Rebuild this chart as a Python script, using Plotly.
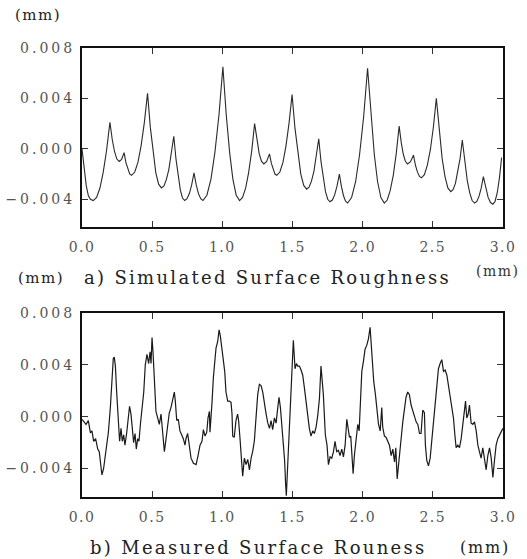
import plotly.graph_objects as go

# ---- data (mm) ----
sim_x = [0.000, 0.015, 0.030, 0.045, 0.060, 0.080, 0.104, 0.128, 0.151, 0.175,
         0.199, 0.2155, 0.232, 0.2485, 0.265, 0.2825, 0.300, 0.313, 0.3265, 0.340,
         0.353, 0.376, 0.399, 0.421, 0.444, 0.467, 0.487, 0.507, 0.526, 0.546,
         0.566, 0.584, 0.601, 0.619, 0.636, 0.654, 0.670, 0.685, 0.701, 0.716,
         0.732, 0.7485, 0.765, 0.7815, 0.798, 0.814, 0.830, 0.846, 0.862, 0.890,
         0.919, 0.947, 0.976, 1.004, 1.028, 1.052, 1.075, 1.099, 1.123, 1.144,
         1.166, 1.187, 1.209, 1.230, 1.2465, 1.263, 1.2795, 1.296, 1.316, 1.336,
         1.349, 1.362, 1.375, 1.388, 1.410, 1.432, 1.453, 1.475, 1.497, 1.518,
         1.539, 1.559, 1.580, 1.601, 1.618, 1.635, 1.653, 1.670, 1.687, 1.703,
         1.719, 1.735, 1.751, 1.767, 1.784, 1.8005, 1.817, 1.834, 1.849, 1.8635,
         1.878, 1.893, 1.921, 1.950, 1.978, 2.007, 2.035, 2.059, 2.083, 2.106,
         2.130, 2.154, 2.175, 2.196, 2.218, 2.239, 2.260, 2.275, 2.290, 2.305,
         2.320, 2.341, 2.362, 2.376, 2.3905, 2.405, 2.419, 2.440, 2.461, 2.483,
         2.504, 2.525, 2.546, 2.566, 2.587, 2.607, 2.628, 2.644, 2.661, 2.677,
         2.694, 2.710, 2.728, 2.745, 2.763, 2.780, 2.798, 2.8135, 2.829, 2.8445,
         2.860, 2.877, 2.894, 2.911, 2.928, 2.9435, 2.959, 2.9745, 2.990]
sim_y = [0.0000, -0.0016, -0.0029, -0.0037, -0.0040, -0.0041, -0.00385, -0.00311, -0.00187, -0.00013,
         0.0021, 0.00074, -0.00023, -0.00081, -0.0010, -0.00083, -0.0003, -0.00109, -0.00165, -0.00199,
         -0.0021, -0.00184, -0.00106, 0.00024, 0.00206, 0.0044, 0.0017, -0.0004, -0.0019, -0.0028,
         -0.0031, -0.00294, -0.00244, -0.00162, -0.00048, 0.0010, -0.00084, -0.00226, -0.00328, -0.0039,
         -0.0041, -0.00396, -0.00355, -0.00286, -0.0019, -0.00286, -0.00355, -0.00396, -0.0041, -0.00368,
         -0.0024, -0.00028, 0.00268, 0.0065, 0.00268, -0.00028, -0.0024, -0.00368, -0.0041, -0.00386,
         -0.00312, -0.0019, -0.0002, 0.0020, 0.0006, -0.0004, -0.0010, -0.0012, -0.0010, -0.0004,
         -0.00114, -0.00168, -0.0020, -0.0021, -0.00184, -0.00108, 0.0002, 0.0020, 0.0043, 0.0016,
         -0.0005, -0.0020, -0.0029, -0.0032, -0.00304, -0.00256, -0.00176, -0.00064, 0.0008, -0.0010,
         -0.0024, -0.0034, -0.0040, -0.0042, -0.00406, -0.00365, -0.00296, -0.0020, -0.00301, -0.00372,
         -0.00416, -0.0043, -0.00387, -0.00259, -0.00045, 0.00255, 0.0064, 0.00255, -0.00045, -0.00259,
         -0.00387, -0.0043, -0.00406, -0.00332, -0.0021, -0.0004, 0.0018, 0.00049, -0.00045, -0.00101,
         -0.0012, -0.00102, -0.0005, -0.00129, -0.00185, -0.00219, -0.0023, -0.00205, -0.00129, -0.00003,
         0.00173, 0.0040, 0.00134, -0.00074, -0.00222, -0.0031, -0.0034, -0.00324, -0.00274, -0.00192,
         -0.00078, 0.0007, -0.0011, -0.0025, -0.0035, -0.0041, -0.0043, -0.00417, -0.00377, -0.00312,
         -0.0022, -0.00316, -0.00385, -0.00426, -0.0044, -0.00417, -0.00348, -0.00232, -0.0007]

meas_x = [0.000, 0.029, 0.045, 0.060, 0.071, 0.083, 0.097, 0.112, 0.123, 0.135,
          0.142, 0.154, 0.164, 0.178, 0.188, 0.202, 0.214, 0.223, 0.230, 0.238,
          0.247, 0.254, 0.261, 0.268, 0.278, 0.287, 0.297, 0.306, 0.318, 0.330,
          0.339, 0.349, 0.359, 0.368, 0.378, 0.387, 0.397, 0.406, 0.416, 0.428,
          0.440, 0.451, 0.463, 0.475, 0.485, 0.492, 0.499, 0.506, 0.513, 0.520,
          0.527, 0.539, 0.551, 0.563, 0.575, 0.587, 0.599, 0.610, 0.622, 0.634,
          0.646, 0.658, 0.665, 0.675, 0.686, 0.698, 0.710, 0.722, 0.734,
          0.741, 0.753, 0.765, 0.777, 0.794, 0.813, 0.827, 0.841, 0.855, 0.865,
          0.877, 0.889, 0.898, 0.908, 0.912, 0.919, 0.927, 0.936, 0.946, 0.955,
          0.967, 0.977, 0.986, 0.998, 1.007, 1.017, 1.026, 1.038, 1.050, 1.062,
          1.069, 1.074, 1.085, 1.097, 1.109, 1.116, 1.126, 1.136, 1.145, 1.157,
          1.169, 1.181, 1.193, 1.205, 1.216, 1.228, 1.240, 1.252, 1.264, 1.276,
          1.288, 1.300, 1.312, 1.324, 1.336, 1.347, 1.359, 1.371, 1.383, 1.395,
          1.404, 1.414, 1.423, 1.435, 1.444, 1.451, 1.456, 1.463, 1.473, 1.482,
          1.491, 1.501, 1.506,
          1.518, 1.528, 1.537, 1.549, 1.561, 1.573, 1.585, 1.596, 1.608, 1.620,
          1.632, 1.644, 1.656, 1.668, 1.680, 1.692, 1.703, 1.710, 1.720, 1.727,
          1.734, 1.746, 1.756, 1.768, 1.780, 1.792, 1.803, 1.815, 1.827, 1.839,
          1.851, 1.863, 1.875, 1.887, 1.896, 1.906, 1.915, 1.925, 1.932, 1.941,
          1.953, 1.965, 1.975, 1.984, 1.994, 2.006, 2.017, 2.029, 2.041, 2.053,
          2.060, 2.070, 2.079, 2.091, 2.103, 2.113, 2.125, 2.136, 2.143, 2.155,
          2.167, 2.179, 2.191, 2.203, 2.215, 2.227, 2.236, 2.246,
          2.262, 2.274, 2.286, 2.298, 2.309, 2.321, 2.333, 2.345, 2.357, 2.369,
          2.381, 2.393, 2.405, 2.416, 2.428, 2.440, 2.447, 2.457, 2.469, 2.481,
          2.492, 2.504, 2.516, 2.528, 2.540, 2.552, 2.564, 2.576, 2.588, 2.600,
          2.612, 2.623, 2.635, 2.647, 2.657, 2.666, 2.678, 2.690, 2.702, 2.714,
          2.726, 2.733, 2.742, 2.752, 2.761, 2.773, 2.785, 2.797, 2.809, 2.821,
          2.832, 2.844, 2.856, 2.868, 2.880, 2.892, 2.904, 2.916, 2.928, 2.939,
          2.951, 2.963, 2.975, 2.987, 2.999]
meas_y = [-0.0002, -0.0006, -0.0003, -0.00125, -0.0011, -0.0019, -0.0017, -0.0025, -0.0027, -0.0039,
          -0.0045, -0.0040, -0.0032, -0.0017, -0.0012, 0.0007, 0.0032, 0.0045, 0.0046, 0.0039,
          0.0019, 0.0007, -0.0012, -0.0019, -0.0009, -0.0019, -0.0014, -0.0022, -0.0013, -0.0001,
          0.0008, 0.0002, -0.0014, -0.0020, -0.0013, -0.0025, -0.0017, -0.0019, -0.0006, 0.0007,
          0.0019, 0.0040, 0.0048, 0.0041, 0.0050, 0.0041, 0.0061, 0.0050, 0.0035, 0.0019,
          0.0004, -0.0001, -0.0006, 0.0002, -0.0014, -0.0027, -0.0017, -0.0006, 0.0003, 0.0007,
          0.0012, 0.0019, 0.0012, -0.0003, -0.0002, -0.0011, -0.0014, -0.0017, -0.0022,
          -0.0017, -0.0013, -0.0022, -0.0032, -0.0036, -0.0037, -0.0030, -0.0022, -0.0019, -0.0010,
          -0.0015, -0.0012, -0.0001, 0.0004, -0.0012, -0.0003, 0.0012, 0.0030, 0.0045, 0.0053,
          0.0058, 0.0067, 0.0062, 0.0050, 0.0045, 0.0035, 0.0019, 0.0012, 0.0012, 0.0011,
          0.0002, -0.0015, -0.0016, -0.0003, 0.0002, -0.0003, -0.0017, -0.0032, -0.0046, -0.0032,
          -0.0037, -0.0033, -0.0041, -0.0032, -0.0027, -0.0019, 0.0002, 0.0017, 0.0025, 0.0024,
          0.0019, 0.0009, 0.0002, -0.0005, -0.0009, -0.0003, -0.0010, -0.0001, -0.0005, 0.0007,
          0.0015, 0.0007, -0.0006, -0.0016, -0.0034, -0.0052, -0.0061, -0.0044, -0.0022, -0.0003,
          0.0022, 0.0045, 0.0059,
          0.0037, 0.0041, 0.0039, 0.0039, 0.0036, 0.0032, 0.0022, 0.0012, 0.0004, -0.0009,
          -0.0015, -0.0011, -0.0013, -0.0008, 0.0001, 0.0014, 0.0039, 0.0030, 0.0017, 0.0001,
          -0.0014, -0.0022, -0.0037, -0.0031, -0.0032, -0.0027, -0.0019, -0.0027, -0.0026, -0.0030,
          -0.0025, -0.0031, -0.0022, -0.0002, -0.0011, -0.0016, -0.0015, -0.0030, -0.0044, -0.0030,
          -0.0017, -0.0006, -0.0011, 0.0009, 0.0035, 0.0043, 0.0052, 0.0055, 0.0060, 0.0069,
          0.0055, 0.0037, 0.0027, 0.0017, 0.0004, -0.0006, -0.0011, 0.0007, -0.0008, -0.0015,
          -0.0016, -0.0019, -0.0022, -0.0030, -0.0025, -0.0035, -0.0024, -0.0048,
          -0.0027, -0.0017, -0.0004, 0.0007, 0.0015, 0.0019, 0.0017, 0.0009, 0.0004, -0.0001,
          -0.0004, -0.0006, -0.0013, -0.0013, 0.0005, 0.0003, -0.0022, -0.0034, -0.0038, -0.0032,
          -0.0019, -0.0006, 0.0009, 0.0025, 0.0037, 0.0041, 0.0044, 0.0035, 0.0036, 0.0032,
          0.0023, 0.0015, 0.0009, -0.0001, -0.0014, -0.0024, -0.0022, -0.0024, -0.0017, -0.0006,
          0.0002, 0.0012, -0.0001, 0.0002, 0.0009, -0.0005, -0.0006, -0.0004, -0.0011, -0.0022,
          -0.0027, -0.0032, -0.0024, -0.0034, -0.0041, -0.0030, -0.0024, -0.0032, -0.0047, -0.0034,
          -0.0022, -0.0017, -0.0014, -0.0012, -0.0009]

x_ticks = [0.0, 0.5, 1.0, 1.5, 2.0, 2.5, 3.0]
x_tick_text = ["0.0", "0.5", "1.0", "1.5", "2.0", "2.5", "3.0"]
y_ticks = [-0.004, 0.0, 0.004, 0.008]
y_tick_text = ["\u22120.004", "0.000", "0.004", "0.008"]

caption_a = "a) Simulated Surface Roughness"
caption_b = "b) Measured Surface Rouness"
unit = "(mm)"

W, H = 527, 559
FONT = "DejaVu Serif"


def px(x):
    return x / W


def py(y):
    return 1 - y / H


def spaced(text, sp):
    return '<span style="letter-spacing:%.1fpx">%s</span>' % (sp, text)


fig = go.Figure()
fig.add_trace(go.Scatter(x=sim_x, y=sim_y, mode="lines",
                         line=dict(color="#2a2a2a", width=1.1),
                         xaxis="x", yaxis="y", showlegend=False))
fig.add_trace(go.Scatter(x=meas_x, y=meas_y, mode="lines",
                         line=dict(color="#1a1a1a", width=1.2),
                         xaxis="x2", yaxis="y2", showlegend=False))

axis_common = dict(showline=True, mirror="ticks", linecolor="#111", linewidth=2,
                   ticks="inside", ticklen=6, tickcolor="#333", tickwidth=1,
                   showgrid=False, zeroline=False, automargin=False,
                   tickfont=dict(family=FONT, size=14, color="#555"))

xa = dict(axis_common, range=[0, 3.0], tickvals=x_ticks,
          ticktext=[spaced(t, 1.5) for t in x_tick_text],
          ticklabelstandoff=6)
ya = dict(axis_common, range=[-0.0062, 0.008], tickvals=y_ticks,
          ticktext=[spaced(t, 3.0) for t in y_tick_text],
          ticklabelstandoff=2)

fig.update_layout(
    width=W, height=H,
    margin=dict(l=0, r=0, t=0, b=0, pad=0, autoexpand=False),
    paper_bgcolor="white", plot_bgcolor="white",
    xaxis=dict(xa, domain=[px(82), px(503)], anchor="y"),
    yaxis=dict(ya, domain=[py(227), py(48)], anchor="x"),
    xaxis2=dict(xa, domain=[px(82), px(503)], anchor="y2"),
    yaxis2=dict(ya, domain=[py(497), py(313)], anchor="x2"),
)

ann = [
    (unit, 38, 15, 15, 1.5, "#222"),
    (unit, 41, 278, 15, 1.5, "#222"),
    (caption_a, 267, 277, 18, 2.3, "#222"),
    (unit, 497, 271, 14, 1.5, "#333"),
    (caption_b, 258, 547, 18, 2.3, "#222"),
    (unit, 485, 547, 16, 1.8, "#222"),
]
for text, x, y, size, sp, color in ann:
    fig.add_annotation(text=spaced(text, sp), x=px(x), y=py(y), xref="paper", yref="paper",
                       xanchor="center", yanchor="middle", showarrow=False,
                       font=dict(family=FONT, size=size, color=color))

fig.write_html("out.html",
               config={"displayModeBar": False},
               post_script="document.body.style.margin='0';"
                           "document.body.style.overflow='hidden';")
